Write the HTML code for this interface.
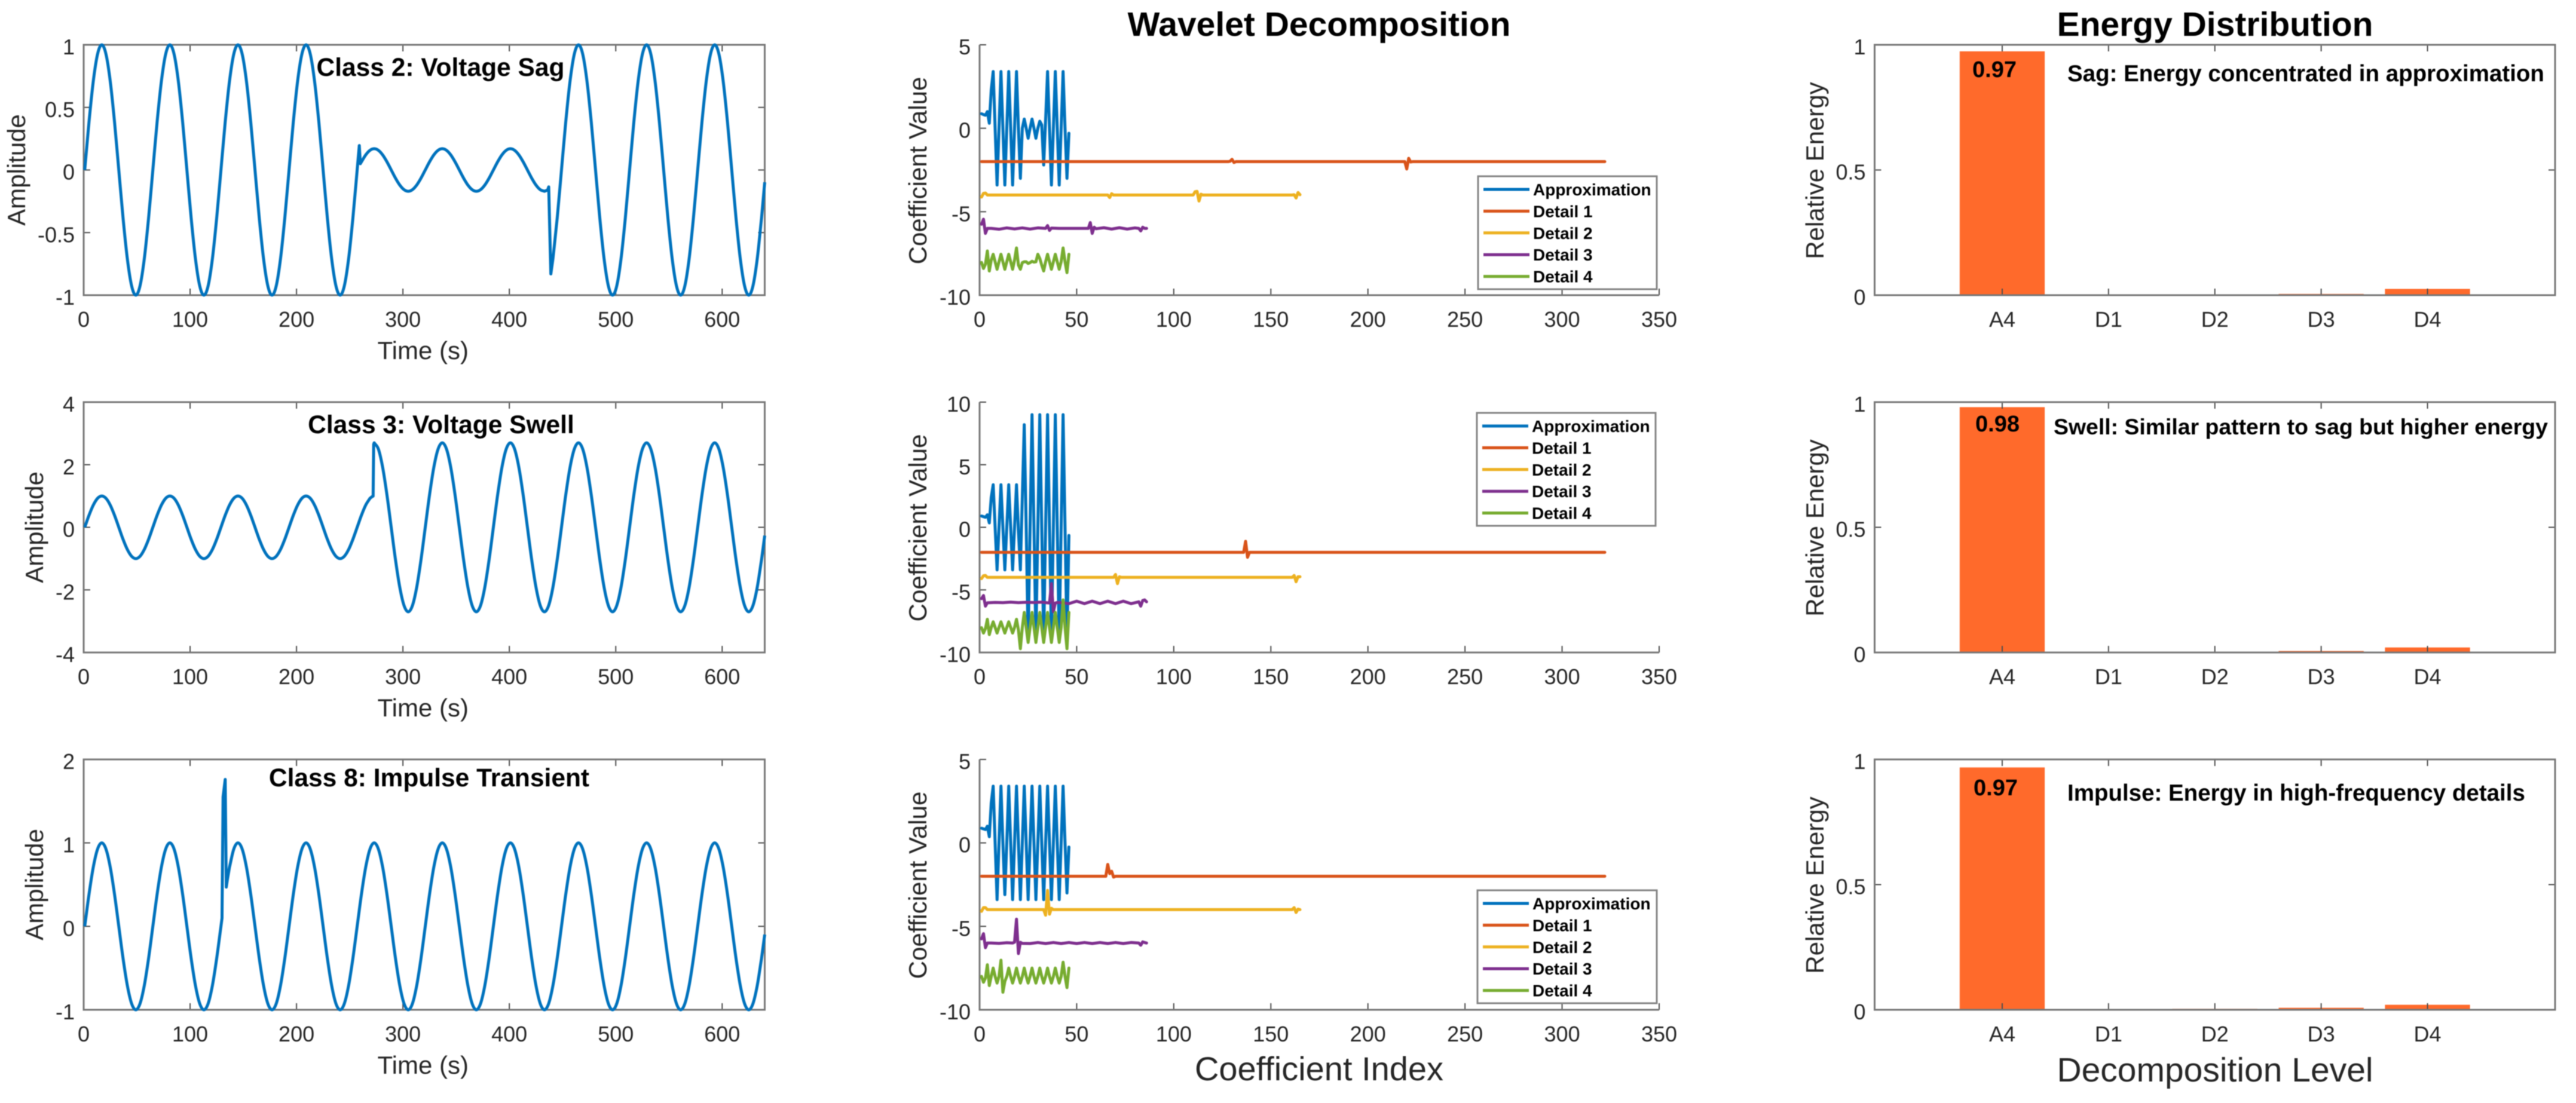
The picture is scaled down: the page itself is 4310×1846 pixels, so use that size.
<!DOCTYPE html>
<html lang="en">
<head>
<meta charset="utf-8">
<title>Wavelet Decomposition and Energy Distribution of Power Quality Events</title>
<style>
html,body{margin:0;padding:0;background:#fff;}
svg{display:block;filter:blur(0.7px);}
text{font-family:"Liberation Sans",Arial,sans-serif;}
</style>
</head>
<body>
<svg id="figure" xmlns="http://www.w3.org/2000/svg" width="4310" height="1846" viewBox="0 0 4310 1846">
  <rect x="0" y="0" width="4310" height="1846" fill="#fff"/>
  <g id="signal-sag"></g>
  <g id="signal-swell"></g>
  <g id="signal-impulse"></g>
  <g id="coeff-sag"></g>
  <g id="coeff-swell"></g>
  <g id="coeff-impulse"></g>
  <g id="energy-sag"></g>
  <g id="energy-swell"></g>
  <g id="energy-impulse"></g>

  <text x="2207" y="60" text-anchor="middle" font-size="57" font-weight="bold" fill="#000">Wavelet Decomposition</text>
  <text x="3706" y="60" text-anchor="middle" font-size="57" font-weight="bold" fill="#000">Energy Distribution</text>
  <text x="2207" y="1808" text-anchor="middle" font-size="56" fill="#262626">Coefficient Index</text>
  <text x="3706" y="1810" text-anchor="middle" font-size="57" fill="#262626">Decomposition Level</text>

  <text x="737" y="127" text-anchor="middle" font-size="42.5" font-weight="bold" fill="#000">Class 2: Voltage Sag</text>
  <text x="738" y="725" text-anchor="middle" font-size="42.5" font-weight="bold" fill="#000">Class 3: Voltage Swell</text>
  <text x="718" y="1316" text-anchor="middle" font-size="42.5" font-weight="bold" fill="#000">Class 8: Impulse Transient</text>

  <text x="3337" y="129" text-anchor="middle" font-size="38" font-weight="bold" fill="#000">0.97</text>
  <text x="3342" y="722" text-anchor="middle" font-size="38" font-weight="bold" fill="#000">0.98</text>
  <text x="3339" y="1331" text-anchor="middle" font-size="38" font-weight="bold" fill="#000">0.97</text>

  <text x="3459" y="136" font-size="38.5" font-weight="bold" fill="#000">Sag: Energy concentrated in approximation</text>
  <text x="3436" y="727" font-size="37.4" font-weight="bold" fill="#000">Swell: Similar pattern to sag but higher energy</text>
  <text x="3459" y="1340" font-size="38.5" font-weight="bold" fill="#000">Impulse: Energy in high-frequency details</text>
</svg>

<script>
/* ---------- shared ticks and categories ---------- */
const timeTicks = [0, 100, 200, 300, 400, 500, 600];
const sagAmpTicks = [-1, -0.5, 0, 0.5, 1];
const swellAmpTicks = [-4, -2, 0, 2, 4];
const impulseAmpTicks = [-1, 0, 1, 2];
const coeffIndexTicks = [0, 50, 100, 150, 200, 250, 300, 350];
const sagCoeffTicks = [-10, -5, 0, 5];
const swellCoeffTicks = [-10, -5, 0, 5, 10];
const impulseCoeffTicks = [-10, -5, 0, 5];
const energyTicks = [0, 0.5, 1];
const levelLabels = ['A4', 'D1', 'D2', 'D3', 'D4'];
const legendLabels = ['Approximation', 'Detail 1', 'Detail 2', 'Detail 3', 'Detail 4'];
const seriesColors = ['#0072BD', '#D95319', '#EDB120', '#7E2F8E', '#77AC30'];

/* ---------- time-domain signals ---------- */
const sagTime = [1,5,9,13,17,21,25,29,33,37,41,45,49,53,57,61,65,69,73,77,81,85,89,93,97,101,105,109,113,117,121,125,129,133,137,141,145,149,153,157,161,165,169,173,177,181,185,189,193,197,201,205,209,213,217,221,225,229,233,237,241,245,249,253,257,259,260,261,265,269,273,277,281,285,289,293,297,301,305,309,313,317,321,325,329,333,337,341,345,349,353,357,361,365,369,373,377,381,385,389,393,397,401,405,409,413,417,421,425,429,433,436,437,439,441,445,449,453,457,461,465,469,473,477,481,485,489,493,497,501,505,509,513,517,521,525,529,533,537,541,545,549,553,557,561,565,569,573,577,581,585,589,593,597,601,605,609,613,617,621,625,629,633,637,640];
const sagAmp = [0,.383,.707,.924,1,.924,.707,.383,0,-.383,-.707,-.924,-1,-.924,-.707,-.383,0,.383,.707,.924,1,.924,.707,.383,0,-.383,-.707,-.924,-1,-.924,-.707,-.383,0,.383,.707,.924,1,.924,.707,.383,0,-.383,-.707,-.924,-1,-.924,-.707,-.383,0,.383,.707,.924,1,.924,.707,.383,0,-.383,-.707,-.924,-1,-.924,-.707,-.383,0,.195,.05,.065,.12,.157,.17,.157,.12,.065,0,-.065,-.12,-.157,-.17,-.157,-.12,-.065,0,.065,.12,.157,.17,.157,.12,.065,0,-.065,-.12,-.157,-.17,-.157,-.12,-.065,0,.065,.12,.157,.17,.157,.12,.065,0,-.065,-.12,-.157,-.17,-.16,-.135,-.83,-.707,-.383,0,.383,.707,.924,1,.924,.707,.383,0,-.383,-.707,-.924,-1,-.924,-.707,-.383,0,.383,.707,.924,1,.924,.707,.383,0,-.383,-.707,-.924,-1,-.924,-.707,-.383,0,.383,.707,.924,1,.924,.707,.383,0,-.383,-.707,-.924,-1,-.924,-.707,-.383,-.098];
const swellTime = [1,5,9,13,17,21,25,29,33,37,41,45,49,53,57,61,65,69,73,77,81,85,89,93,97,101,105,109,113,117,121,125,129,133,137,141,145,149,153,157,161,165,169,173,177,181,185,189,193,197,201,205,209,213,217,221,225,229,233,237,241,245,249,253,257,261,265,269,271,272,272.5,273,277,281,285,289,293,297,301,305,309,313,317,321,325,329,333,337,341,345,349,353,357,361,365,369,373,377,381,385,389,393,397,401,405,409,413,417,421,425,429,433,437,441,445,449,453,457,461,465,469,473,477,481,485,489,493,497,501,505,509,513,517,521,525,529,533,537,541,545,549,553,557,561,565,569,573,577,581,585,589,593,597,601,605,609,613,617,621,625,629,633,637,640];
const swellAmp = [0,.383,.707,.924,1,.924,.707,.383,0,-.383,-.707,-.924,-1,-.924,-.707,-.383,0,.383,.707,.924,1,.924,.707,.383,0,-.383,-.707,-.924,-1,-.924,-.707,-.383,0,.383,.707,.924,1,.924,.707,.383,0,-.383,-.707,-.924,-1,-.924,-.707,-.383,0,.383,.707,.924,1,.924,.707,.383,0,-.383,-.707,-.924,-1,-.924,-.707,-.383,0,.383,.707,.924,.98,.995,2.65,2.7,2.495,1.909,1.034,0,-1.034,-1.909,-2.495,-2.7,-2.495,-1.909,-1.034,0,1.034,1.909,2.495,2.7,2.495,1.909,1.034,0,-1.034,-1.909,-2.495,-2.7,-2.495,-1.909,-1.034,0,1.034,1.909,2.495,2.7,2.495,1.909,1.034,0,-1.034,-1.909,-2.495,-2.7,-2.495,-1.909,-1.034,0,1.034,1.909,2.495,2.7,2.495,1.909,1.034,0,-1.034,-1.909,-2.495,-2.7,-2.495,-1.909,-1.034,0,1.034,1.909,2.495,2.7,2.495,1.909,1.034,0,-1.034,-1.909,-2.495,-2.7,-2.495,-1.909,-1.034,0,1.034,1.909,2.495,2.7,2.495,1.909,1.034,0,-1.034,-1.909,-2.495,-2.7,-2.495,-1.909,-1.034,-.265];
const impulseTime = [1,5,9,13,17,21,25,29,33,37,41,45,49,53,57,61,65,69,73,77,81,85,89,93,97,101,105,109,113,117,121,125,129,130,131,133,134,135,137,141,145,149,153,157,161,165,169,173,177,181,185,189,193,197,201,205,209,213,217,221,225,229,233,237,241,245,249,253,257,261,265,269,273,277,281,285,289,293,297,301,305,309,313,317,321,325,329,333,337,341,345,349,353,357,361,365,369,373,377,381,385,389,393,397,401,405,409,413,417,421,425,429,433,437,441,445,449,453,457,461,465,469,473,477,481,485,489,493,497,501,505,509,513,517,521,525,529,533,537,541,545,549,553,557,561,565,569,573,577,581,585,589,593,597,601,605,609,613,617,621,625,629,633,637,640];
const impulseAmp = [0,.383,.707,.924,1,.924,.707,.383,0,-.383,-.707,-.924,-1,-.924,-.707,-.383,0,.383,.707,.924,1,.924,.707,.383,0,-.383,-.707,-.924,-1,-.924,-.707,-.383,0,.098,1.55,1.76,.47,.556,.707,.924,1,.924,.707,.383,0,-.383,-.707,-.924,-1,-.924,-.707,-.383,0,.383,.707,.924,1,.924,.707,.383,0,-.383,-.707,-.924,-1,-.924,-.707,-.383,0,.383,.707,.924,1,.924,.707,.383,0,-.383,-.707,-.924,-1,-.924,-.707,-.383,0,.383,.707,.924,1,.924,.707,.383,0,-.383,-.707,-.924,-1,-.924,-.707,-.383,0,.383,.707,.924,1,.924,.707,.383,0,-.383,-.707,-.924,-1,-.924,-.707,-.383,0,.383,.707,.924,1,.924,.707,.383,0,-.383,-.707,-.924,-1,-.924,-.707,-.383,0,.383,.707,.924,1,.924,.707,.383,0,-.383,-.707,-.924,-1,-.924,-.707,-.383,0,.383,.707,.924,1,.924,.707,.383,0,-.383,-.707,-.924,-1,-.924,-.707,-.383,-.098];

/* ---------- wavelet coefficients (offset for display) ---------- */
const sagApprox = [.87,.82,.78,1,.3,2.3,3.4,0,-3.4,0,3.4,0,-3.4,0,3.4,0,-3.4,0,3.4,0,-3,0,.55,0,-.6,0,.55,0,-.6,0,.42,.2,-2.2,.5,3.4,0,-3.4,0,3.4,0,-3.4,0,3.4,0,-3,-.3];
const sagD1Index = [1,128,129,130,131,132,219,220,221,222,223,322];
const sagD1 = [-2,-2,-1.98,-1.86,-2.05,-2,-2,-2.44,-1.8,-2.02,-2,-2];
const sagD2Index = [1,2,3,4,66,67,68,69,110,111,112,113,114,115,161,162,163,164,165];
const sagD2 = [-4.12,-3.9,-3.88,-4,-4,-4.15,-3.92,-4,-4,-3.8,-3.78,-4.36,-3.95,-4,-4,-3.98,-4.18,-3.85,-3.98];
const sagD3Index = [1,2,3,4,6,10,14,18,22,26,30,34,35,36,37,41,45,48,52,56,57,58,59,60,64,68,72,76,80,82,83,84,85,86];
const sagD3 = [-5.75,-5.45,-6.3,-6,-6,-6.05,-5.97,-6.03,-5.97,-6.04,-5.97,-6,-5.83,-6.12,-5.98,-6,-6,-6,-6,-6,-5.65,-6.3,-5.93,-6.02,-5.96,-6.04,-5.96,-6.04,-5.97,-6,-6.15,-5.93,-6,-6];
const sagD4 = [-8.04,-8.4,-8.15,-7.35,-8.55,-7.9,-7.55,-8,-8.45,-8,-7.55,-8,-8.45,-8,-7.55,-8,-8.45,-7.9,-7.17,-8.2,-8.45,-8.05,-8,-8,-8.1,-8.05,-7.97,-8.02,-8,-7.55,-7.8,-8.2,-8.55,-8,-7.55,-8,-8.45,-8,-7.55,-8,-8.45,-8,-7.17,-8,-8.65,-7.55];

const swellApprox = [.9,.85,.8,1,.35,2.4,3.4,0,-3.4,0,3.4,0,-3.4,0,3.4,0,-3.4,0,3.4,-.3,-3.4,2.4,8.2,0,-9,0,9,0,-9,0,9,0,-9,0,9,0,-9,0,9,0,-9,0,9,0,-9,-.65];
const swellD1Index = [1,135,136,137,138,139,140,322];
const swellD1 = [-2,-2,-2,-1.12,-2.4,-2,-2,-2];
const swellD2Index = [1,2,3,4,68,69,70,71,72,73,161,162,163,164,165];
const swellD2 = [-4.1,-3.87,-3.85,-4,-4,-4,-3.77,-4.5,-3.95,-4,-4,-3.85,-4.35,-3.95,-3.95];
const swellD3Index = [1,2,3,4,8,12,16,20,24,28,32,36,37,38,39,40,44,46,50,54,58,62,66,70,74,78,82,83,84,85,86];
const swellD3 = [-5.7,-5.45,-6.3,-6.03,-6,-6.02,-5.98,-6.02,-5.99,-6.01,-5.98,-6.05,-4.5,-6.75,-6.05,-6,-6.05,-6.1,-5.9,-6.1,-5.9,-6.1,-5.9,-6.1,-5.9,-6.1,-5.95,-6.3,-5.85,-5.8,-5.95];
const swellD4 = [-8.02,-8.45,-8.1,-7.35,-8.57,-8,-7.55,-8,-8.45,-8,-7.55,-8,-8.45,-8,-7.55,-8,-8.45,-8,-7.35,-8.2,-9.7,-8,-6.8,-8,-9.2,-8,-6.8,-8,-9.2,-8,-6.8,-8,-9.2,-8,-6.8,-8,-9.2,-8,-6.8,-8,-9.2,-8,-5.8,-8,-9.7,-6.8];

const impulseApprox = [.88,.84,.8,1,.37,2.4,3.4,0,-3.4,0,3.4,0,-3.1,0,3.4,0,-3.4,0,3.4,0,-3.4,0,3.4,0,-3.4,0,3.4,0,-3.4,0,3.4,0,-3.4,0,3.4,0,-3.4,0,3.4,0,-3.4,0,3.4,0,-3,-.25];
const impulseD1Index = [1,64,65,66,67,68,69,70,322];
const impulseD1 = [-2,-2,-2,-1.29,-1.84,-1.7,-2.05,-2,-2];
const impulseD2Index = [1,2,3,4,33,34,35,36,37,38,161,162,163,164,165];
const impulseD2 = [-4.1,-3.88,-3.88,-4,-4,-4.33,-2.85,-4.27,-3.92,-4,-4,-3.88,-4.17,-3.97,-4];
const impulseD3Index = [1,2,3,4,6,10,14,17,18,19,20,21,22,26,30,34,38,42,46,50,54,58,62,66,70,74,78,82,83,84,85,86];
const impulseD3 = [-5.75,-5.44,-6.28,-6,-6,-6.02,-5.98,-6,-5.95,-4.57,-6.63,-5.96,-6.02,-6.03,-5.97,-6.03,-5.97,-6.03,-5.97,-6.03,-5.97,-6.03,-5.97,-6.03,-5.97,-6.03,-5.97,-6,-6.13,-5.93,-5.97,-6];
const impulseD4 = [-8,-8.35,-8.1,-7.3,-8.55,-8,-7.5,-8,-8.4,-8,-7.03,-8.95,-8.3,-8,-7.5,-8,-8.4,-8,-7.5,-8,-8.4,-8,-7.5,-8,-8.4,-8,-7.5,-8,-8.4,-8,-7.5,-8,-8.4,-8,-7.5,-8,-8.4,-8,-7.5,-8,-8.4,-8,-7.15,-8,-8.67,-7.5];

/* ---------- energy distribution ---------- */
const sagEnergy = [0.974, 0, 0, 0.005, 0.025];
const swellEnergy = [0.98, 0, 0, 0.006, 0.02];
const impulseEnergy = [0.968, 0.002, 0.004, 0.008, 0.02];

/* ---------- drawing ---------- */
const NS = 'http://www.w3.org/2000/svg';
const TICK_COLOR = '#4d4d4d';
const AXIS_COLOR = '#777777';
const TEXT_COLOR = '#262626';
const TICK_FONT = 36;
const LABEL_FONT = 42;
const TICK_LEN = 11;

function svgEl(tag, parent, attrs) {
  const el = document.createElementNS(NS, tag);
  for (const key in attrs) el.setAttribute(key, attrs[key]);
  parent.appendChild(el);
  return el;
}
function linear(d0, d1, r0, r1) {
  return function (v) { return r0 + (v - d0) * (r1 - r0) / (d1 - d0); };
}
function polyPath(xs, ys, sx, sy) {
  let d = '';
  for (let i = 0; i < xs.length; i++) {
    d += (i ? 'L' : 'M') + sx(xs[i]).toFixed(2) + ' ' + sy(ys[i]).toFixed(2);
  }
  return d;
}
/* Smooth between evenly spaced samples; jumps in the signal stay sharp. */
function smoothPath(ts, vs, sx, sy) {
  const step = 4;
  function slope(i) {
    const hasPrev = i > 0 && ts[i] - ts[i - 1] === step;
    const hasNext = i < ts.length - 1 && ts[i + 1] - ts[i] === step;
    if (hasPrev && hasNext) return (vs[i + 1] - vs[i - 1]) / (2 * step);
    if (hasNext) return (vs[i + 1] - vs[i]) / step;
    if (hasPrev) return (vs[i] - vs[i - 1]) / step;
    return 0;
  }
  let d = 'M' + sx(ts[0]).toFixed(2) + ' ' + sy(vs[0]).toFixed(2);
  for (let i = 0; i < ts.length - 1; i++) {
    const dt = ts[i + 1] - ts[i];
    if (dt === step) {
      const c1x = sx(ts[i] + dt / 3), c1y = sy(vs[i] + slope(i) * dt / 3);
      const c2x = sx(ts[i + 1] - dt / 3), c2y = sy(vs[i + 1] - slope(i + 1) * dt / 3);
      d += 'C' + c1x.toFixed(2) + ' ' + c1y.toFixed(2) + ' ' + c2x.toFixed(2) + ' ' + c2y.toFixed(2) + ' ' + sx(ts[i + 1]).toFixed(2) + ' ' + sy(vs[i + 1]).toFixed(2);
    } else {
      d += 'L' + sx(ts[i + 1]).toFixed(2) + ' ' + sy(vs[i + 1]).toFixed(2);
    }
  }
  return d;
}

function drawAxes(g, box, xVals, xLabels, sx, yVals, sy, boxed) {
  const left = box.left, right = box.right, top = box.top, bottom = box.bottom;
  xVals.forEach(function (v, i) {
    const x = sx(v);
    const tick = svgEl('line', g, { x1: x, x2: x, y1: bottom, y2: bottom - TICK_LEN, stroke: TICK_COLOR, 'stroke-width': 2 });
    
    
    if (boxed) {
      const topTick = svgEl('line', g, { x1: x, x2: x, y1: top, y2: top + TICK_LEN, stroke: TICK_COLOR, 'stroke-width': 2 });
      
      
    }
    const label = svgEl('text', g, { x: x, y: bottom + 53, 'text-anchor': 'middle', 'font-size': TICK_FONT, fill: TEXT_COLOR });
    
    
    label.textContent = xLabels[i];
  });
  yVals.forEach(function (v) {
    const y = sy(v);
    const tick = svgEl('line', g, { x1: left, x2: left + TICK_LEN, y1: y, y2: y, stroke: TICK_COLOR, 'stroke-width': 2 });
    
    
    if (boxed) {
      const rightTick = svgEl('line', g, { x1: right, x2: right - TICK_LEN, y1: y, y2: y, stroke: TICK_COLOR, 'stroke-width': 2 });
      
      
    }
    const label = svgEl('text', g, { x: left - 15, y: y + 16, 'text-anchor': 'end', 'font-size': TICK_FONT, fill: TEXT_COLOR });
    
    
    label.textContent = String(v);
  });
  const spineD = boxed
    ? 'M' + left + ' ' + top + 'H' + right + 'V' + bottom + 'H' + left + 'Z'
    : 'M' + left + ' ' + top + 'V' + bottom + 'H' + right;
  const spine = svgEl('path', g, { d: spineD, fill: 'none', stroke: AXIS_COLOR, 'stroke-width': 3 });
  
  
}

function drawYTitle(g, text, x, y) {
  const title = svgEl('text', g, { x: 0, y: 0, 'text-anchor': 'middle', 'font-size': LABEL_FONT, fill: TEXT_COLOR, transform: 'translate(' + x + ' ' + y + ') rotate(-90)' });
  
  
  title.textContent = text;
}

function drawSignalPanel(id, box, yLim, yTicks, ts, vs, yTitleX) {
  const g = document.getElementById(id);
  const sx = linear(0, 640, box.left, box.right);
  const sy = linear(yLim[0], yLim[1], box.bottom, box.top);
  drawAxes(g, box, timeTicks, timeTicks.map(String), sx, yTicks, sy, true);
  const line = svgEl('path', g, { d: smoothPath(ts, vs, sx, sy), fill: 'none', stroke: seriesColors[0], 'stroke-width': 5, 'stroke-linejoin': 'round', 'stroke-linecap': 'butt' });
  
  
  const xTitle = svgEl('text', g, { x: (box.left + box.right) / 2 - 2, y: box.bottom + 107, 'text-anchor': 'middle', 'font-size': LABEL_FONT, fill: TEXT_COLOR });
  
  
  xTitle.textContent = 'Time (s)';
  drawYTitle(g, 'Amplitude', yTitleX, (box.top + box.bottom) / 2);
}

function drawCoeffPanel(id, box, yLim, yTicks, approx, d1i, d1, d2i, d2, d3i, d3, d4, legend) {
  const g = document.getElementById(id);
  const sx = linear(0, 350, box.left, box.right);
  const sy = linear(yLim[0], yLim[1], box.bottom, box.top);
  drawAxes(g, box, coeffIndexTicks, coeffIndexTicks.map(String), sx, yTicks, sy, false);
  const seriesX = [approx.map(function (_, i) { return i + 1; }), d1i, d2i, d3i, d4.map(function (_, i) { return i + 1; })];
  const seriesY = [approx, d1, d2, d3, d4];
  seriesX.forEach(function (xs, s) {
    const line = svgEl('path', g, { d: polyPath(xs, seriesY[s], sx, sy), fill: 'none', stroke: seriesColors[s], 'stroke-width': 5, 'stroke-linejoin': 'round', 'stroke-linecap': 'round' });
    
    
  });
  drawYTitle(g, 'Coefficient Value', 1550, (box.top + box.bottom) / 2 + 1);

  const frame = svgEl('rect', g, { x: legend.x, y: legend.y, width: legend.w, height: legend.h, fill: '#fff', stroke: '#858585', 'stroke-width': 3 });
  
  
  legendLabels.forEach(function (label, i) {
    const y = legend.y + 22 + i * 36.4;
    const swatch = svgEl('line', g, { x1: legend.x + 9, x2: legend.x + 86, y1: y, y2: y, stroke: seriesColors[i], 'stroke-width': 5 });
    
    
    const text = svgEl('text', g, { x: legend.x + 92, y: y + 10, 'font-size': 28, 'font-weight': 'bold', fill: '#000' });
    
    
    text.textContent = label;
  });
}

function drawEnergyPanel(id, box, values) {
  const g = document.getElementById(id);
  const sx = linear(-0.2, 6.2, box.left, box.right);
  const sy = linear(0, 1, box.bottom, box.top);
  values.forEach(function (v, i) {
    const bar = svgEl('rect', g, { x: sx(i + 0.6), width: sx(i + 1.4) - sx(i + 0.6), y: sy(v), height: sy(0) - sy(v), fill: '#FF6A2B' });
    
    
  });
  drawAxes(g, box, levelLabels.map(function (_, i) { return i + 1; }), levelLabels, sx, energyTicks, sy, true);
  drawYTitle(g, 'Relative Energy', 3051, (box.top + box.bottom) / 2 + 1);
}

const rowTops = [75, 673, 1271];
const rowBottoms = [494, 1092, 1690];
function boxFor(row, left, right) {
  return { left: left, right: right, top: rowTops[row], bottom: rowBottoms[row] };
}

drawSignalPanel('signal-sag', boxFor(0, 140, 1279.5), [-1, 1], sagAmpTicks, sagTime, sagAmp, 42);
drawSignalPanel('signal-swell', boxFor(1, 140, 1279.5), [-4, 4], swellAmpTicks, swellTime, swellAmp, 72);
drawSignalPanel('signal-impulse', boxFor(2, 140, 1279.5), [-1, 2], impulseAmpTicks, impulseTime, impulseAmp, 72);

drawCoeffPanel('coeff-sag', boxFor(0, 1639, 2776), [-10, 5], sagCoeffTicks, sagApprox, sagD1Index, sagD1, sagD2Index, sagD2, sagD3Index, sagD3, sagD4, { x: 2473, y: 295, w: 299, h: 189 });
drawCoeffPanel('coeff-swell', boxFor(1, 1639, 2776), [-10, 10], swellCoeffTicks, swellApprox, swellD1Index, swellD1, swellD2Index, swellD2, swellD3Index, swellD3, swellD4, { x: 2471, y: 691, w: 299, h: 189 });
drawCoeffPanel('coeff-impulse', boxFor(2, 1639, 2776), [-10, 5], impulseCoeffTicks, impulseApprox, impulseD1Index, impulseD1, impulseD2Index, impulseD2, impulseD3Index, impulseD3, impulseD4, { x: 2472, y: 1490, w: 300, h: 189 });

drawEnergyPanel('energy-sag', boxFor(0, 3136.5, 4275), sagEnergy);
drawEnergyPanel('energy-swell', boxFor(1, 3136.5, 4275), swellEnergy);
drawEnergyPanel('energy-impulse', boxFor(2, 3136.5, 4275), impulseEnergy);
</script>
</body>
</html>
